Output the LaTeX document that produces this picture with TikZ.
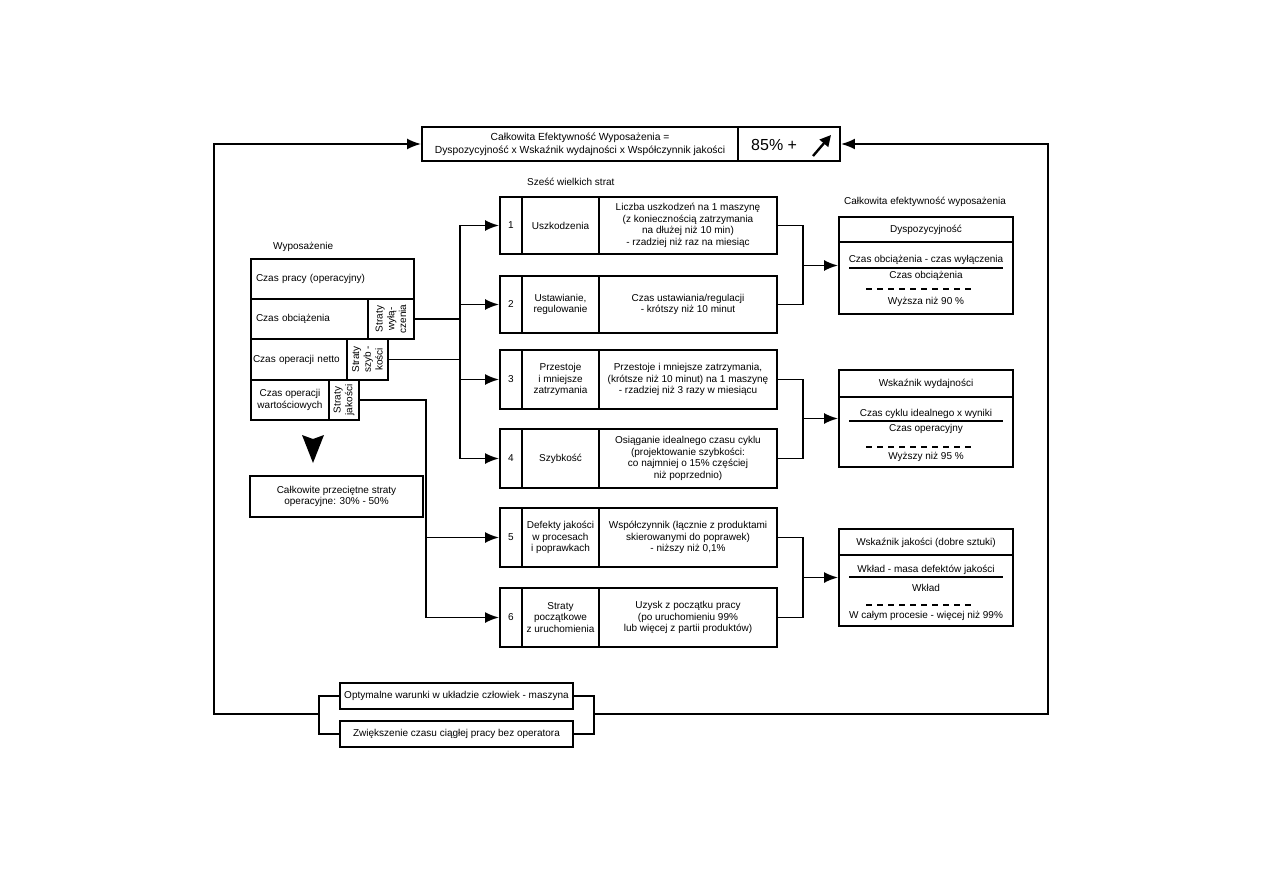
\documentclass[tikz,border=0pt]{standalone}
\usepackage{fontspec}
\setmainfont{Liberation Sans}
\usetikzlibrary{arrows.meta}
\newcommand{\fs}{\fontsize{10}{11.7}\selectfont}

\begin{document}
\begin{tikzpicture}[x=1pt, y=-1pt, >={Latex[length=14pt,width=11pt]},
    box/.style={draw, line width=1.9pt, inner sep=0pt, align=center, font=\fs},
    conn/.style={line width=1.9pt},
    txt/.style={inner sep=0pt, align=center, font=\fs},
    dashline/.style={line width=2pt, dash pattern=on 5.5pt off 5.5pt}]
    \useasboundingbox (0,0) rectangle (1263,893);

    % Overall equipment effectiveness (top)
    \node[box, minimum width=316, minimum height=34, font=\fontsize{10.3}{13}\selectfont] (oee) at (580,144)
        {Całkowita Efektywność Wyposażenia =\\Dyspozycyjność x Wskaźnik wydajności x Współczynnik jakości};
    \node[box, minimum width=102, minimum height=34] (goal) at (789,144) {};
    \node[txt, anchor=west, font=\fontsize{16}{18}\selectfont] (pct) at (751,145) {85\% +};
    \draw[line width=2.4pt, -{Triangle[length=11pt,width=11pt]}] (813,156) -- (831,135);

    % Equipment time stack (left)
    \node[txt, anchor=west] (eq) at (273,247) {Wyposażenie};
    \node[box, text width=153, inner xsep=5, minimum height=40, align=left] (wp) at (332.5,279) {Czas pracy (operacyjny)};
    \node[box, text width=107, inner xsep=5, minimum height=40, align=left] (wo) at (309.5,319) {Czas obciążenia};
    \node[box, minimum width=46, minimum height=40] (sw) at (391,319) {};
    \node[txt, rotate=90] (swt) at (sw.center) {Straty\\wyłą-\\czenia};
    \node[box, text width=92, inner xsep=2, minimum height=41, align=left] (wn) at (299,359.5) {Czas operacji netto};
    \node[box, minimum width=41, minimum height=41] (ss) at (367.5,359.5) {};
    \node[txt, rotate=90] (sst) at (ss.center) {Straty\\szyb -\\kości};
    \node[box, minimum width=78, minimum height=40] (wv) at (290,400) {Czas operacji\\wartościowych};
    \node[box, minimum width=30, minimum height=40] (sj) at (344,400) {};
    \node[txt, rotate=90] (sjt) at (sj.center) {Straty\\jakości};

    % big arrow and total losses
    \fill (302,435) -- (313,463) -- (324,435) -- (313,439) -- cycle;
    \node[box, minimum width=173, minimum height=41] (tot) at (336.5,496.5) {Całkowite przeciętne straty\\operacyjne: 30\% - 50\%};

    % Six big losses
    \node[txt, anchor=west] (six) at (527,182) {Sześć wielkich strat};

    \node[box, minimum width=22, minimum height=57] (n1) at (511,225.5) {1};
    \node[box, minimum width=77, minimum height=57] (l1) at (560.5,225.5) {Uszkodzenia};
    \node[box, minimum width=178, minimum height=57] (d1) at (688,225.5) {Liczba uszkodzeń na 1 maszynę\\(z koniecznością zatrzymania\\na dłużej niż 10 min)\\- rzadziej niż raz na miesiąc};

    \node[box, minimum width=22, minimum height=57] (n2) at (511,304.5) {2};
    \node[box, minimum width=77, minimum height=57] (l2) at (560.5,304.5) {Ustawianie,\\regulowanie};
    \node[box, minimum width=178, minimum height=57] (d2) at (688,304.5) {Czas ustawiania/regulacji\\- krótszy niż 10 minut};

    \node[box, minimum width=22, minimum height=59] (n3) at (511,379.5) {3};
    \node[box, minimum width=77, minimum height=59] (l3) at (560.5,379.5) {Przestoje\\i mniejsze\\zatrzymania};
    \node[box, minimum width=178, minimum height=59] (d3) at (688,379.5) {Przestoje i mniejsze zatrzymania,\\(krótsze niż 10 minut) na 1 maszynę\\- rzadziej niż 3 razy w miesiącu};

    \node[box, minimum width=22, minimum height=59] (n4) at (511,458.5) {4};
    \node[box, minimum width=77, minimum height=59] (l4) at (560.5,458.5) {Szybkość};
    \node[box, minimum width=178, minimum height=59] (d4) at (688,458.5) {Osiąganie idealnego czasu cyklu\\(projektowanie szybkości:\\co najmniej o 15\% częściej\\niż poprzednio)};

    \node[box, minimum width=22, minimum height=59] (n5) at (511,537.5) {5};
    \node[box, minimum width=77, minimum height=59] (l5) at (560.5,537.5) {Defekty jakości\\w procesach\\i poprawkach};
    \node[box, minimum width=178, minimum height=59] (d5) at (688,537.5) {Współczynnik (łącznie z produktami\\skierowanymi do poprawek)\\- niższy niż 0,1\%};

    \node[box, minimum width=22, minimum height=59] (n6) at (511,617.5) {6};
    \node[box, minimum width=77, minimum height=59] (l6) at (560.5,617.5) {Straty\\początkowe\\z uruchomienia};
    \node[box, minimum width=178, minimum height=59] (d6) at (688,617.5) {Uzysk z początku pracy\\(po uruchomieniu 99\%\\lub więcej z partii produktów)};

    % left connectors to losses
    \coordinate (bus) at (460,0);
    \coordinate (busq) at (426,0);
    \draw[conn] (sw.east) -- (sw.east -| bus);
    \draw[conn] (ss.east) -- (ss.east -| bus);
    \draw[conn] (bus |- n1.west) -- (bus |- n4.west);
    \foreach \i in {1,...,4} {
        \draw[conn,->] (bus |- n\i.west) -- (n\i.west);
    }
    \draw[conn,->] (sj.east) -| (busq |- n6.west) -- (n6.west);
    \draw[conn,->] (busq |- n5.west) -- (n5.west);

    % Effectiveness indicators (right)
    \node[txt] (oeeh) at (925,202) {Całkowita efektywność wyposażenia};

    \node[box, minimum width=174, minimum height=97] (dysp) at (926,265.5) {};
    \draw[conn] ([yshift=-26pt]dysp.north west) -- ([yshift=-26pt]dysp.north east);
    \node[txt] (dysph) at (926,230) {Dyspozycyjność};
    \node[txt] (dyspa) at (926,260) {Czas obciążenia - czas wyłączenia};
    \draw[conn] (849,268) -- (1003,268);
    \node[txt] (dyspb) at (926,276) {Czas obciążenia};
    \draw[dashline] (866,289) -- (975,289);
    \node[txt] (dyspc) at (926,302) {Wyższa niż 90 \%};

    \node[box, minimum width=174, minimum height=97] (wyd) at (926,418.5) {};
    \draw[conn] ([yshift=-28pt]wyd.north west) -- ([yshift=-28pt]wyd.north east);
    \node[txt] (wydh) at (926,384) {Wskaźnik wydajności};
    \node[txt] (wyda) at (926,414) {Czas cyklu idealnego x wyniki};
    \draw[conn] (849,421) -- (1003,421);
    \node[txt] (wydb) at (926,429) {Czas operacyjny};
    \draw[dashline] (866,447) -- (975,447);
    \node[txt] (wydc) at (926,457) {Wyższy niż 95 \%};

    \node[box, minimum width=174, minimum height=97] (jak) at (926,577.5) {};
    \draw[conn] ([yshift=-27pt]jak.north west) -- ([yshift=-27pt]jak.north east);
    \node[txt] (jakh) at (926,542.5) {Wskaźnik jakości (dobre sztuki)};
    \node[txt] (jaka) at (926,570) {Wkład - masa defektów jakości};
    \draw[conn] (849,577) -- (1003,577);
    \node[txt] (jakb) at (926,588) {Wkład};
    \draw[dashline] (866,605) -- (975,605);
    \node[txt] (jakc) at (926,616) {W całym procesie - więcej niż 99\%};

    % right connectors
    \coordinate (mx) at (803,0);
    \draw[conn] (d1.east) -| (mx |- d2.east) -- (d2.east);
    \draw[conn] (d3.east) -| (mx |- d4.east) -- (d4.east);
    \draw[conn] (d5.east) -| (mx |- d6.east) -- (d6.east);
    \draw[conn,->] (mx |- dysp.west) -- (dysp.west);
    \draw[conn,->] (mx |- wyd.west) -- (wyd.west);
    \draw[conn,->] (mx |- jak.west) -- (jak.west);

    % Improvement loop (bottom)
    \node[box, minimum width=233, minimum height=26] (b1) at (456.5,696) {Optymalne warunki w układzie człowiek - maszyna};
    \node[box, minimum width=233, minimum height=26] (b2) at (456.5,734) {Zwiększenie czasu ciągłej pracy bez operatora};
    \coordinate (lb) at (319,714);
    \coordinate (rb) at (594,714);
    \coordinate (loopl) at (214,0);
    \coordinate (loopr) at (1048,0);
    \draw[conn] (b1.west) -| (lb) |- (b2.west);
    \draw[conn] (b1.east) -| (rb) |- (b2.east);
    \draw[conn,->] (lb) -- (lb -| loopl) |- (oee.west);
    \draw[conn,->] (rb) -- (rb -| loopr) |- (goal.east);
\end{tikzpicture}
\end{document}
